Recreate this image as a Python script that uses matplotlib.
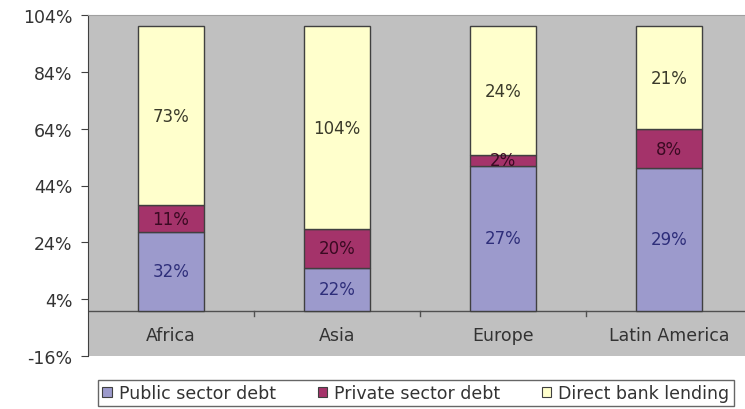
import matplotlib
matplotlib.use("Agg")
import matplotlib.pyplot as plt
import numpy as np
from matplotlib.patches import Patch

categories = ["Africa", "Asia", "Europe", "Latin America"]
public_debt = [32, 22, 27, 29]
private_debt = [11, 20, 2, 8]
direct_lending = [73, 104, 24, 21]
series_names = ["Public sector debt", "Private sector debt", "Direct bank lending"]
yticks = [-16, 4, 24, 44, 64, 84, 104]

colors = ["#9C9ACC", "#A4336A", "#FFFFCC"]
text_colors = ["#2E2E7A", "#3A0A22", "#3A3A2A"]

plt.rcParams["font.family"] = ["DejaVu Sans"]

fig = plt.figure(figsize=(7.45, 4.10), dpi=100)
ax = fig.add_axes([88/745, 1-357/410, (752-88)/745, 341/410])
ax.set_facecolor("#C0C0C0")

raw = np.array([public_debt, private_debt, direct_lending], dtype=float)
share = raw / raw.sum(axis=0) * 100
x = np.arange(len(categories))
bottom = np.zeros(len(categories))
for i in range(3):
    ax.bar(x, share[i], 0.4, bottom=bottom, color=colors[i],
           edgecolor="#404040", linewidth=1.0, zorder=3)
    for j in range(len(categories)):
        ax.text(x[j], bottom[j] + share[i][j]/2, f"{int(raw[i][j])}%",
                ha="center", va="center", fontsize=12, color=text_colors[i], zorder=4)
    bottom += share[i]

ax.set_xlim(-0.5, len(categories) - 0.5)
ax.set_ylim(-16, 104)
ax.set_yticks(yticks)
ax.set_yticklabels([f"{t}%" for t in yticks], fontsize=12.5, color="#333333")
ax.tick_params(axis="y", length=5, color="#404040", direction="out", pad=6)
ax.set_xticks([])

ax.axhline(0, color="#505050", linewidth=1.0, zorder=2)
for b in np.arange(0.5, len(categories) - 0.5, 1):
    ax.plot([b, b], [0, -1.8], color="#505050", linewidth=1.0, zorder=2, clip_on=False)
for j, c in enumerate(categories):
    ax.text(x[j], -8.5, c, ha="center", va="center", fontsize=12.5, color="#333333")

for s in ["right", "bottom"]:
    ax.spines[s].set_visible(False)
ax.spines["left"].set_color("#404040")
ax.spines["top"].set_color("#A0A0A0")

handles = [Patch(facecolor=colors[i], edgecolor="#404040", linewidth=0.8) for i in range(3)]
leg = fig.legend(handles, series_names, loc="center", bbox_to_anchor=(416/745, 1-394/410),
                 ncol=3, fontsize=12.5, frameon=True, fancybox=False, edgecolor="#404040",
                 handlelength=0.55, handleheight=0.55, handletextpad=0.4, columnspacing=2.4,
                 borderpad=0.25)
leg.get_frame().set_linewidth(1.0)
for t in leg.get_texts():
    t.set_color("#333333")

fig.savefig("out.png", dpi=100)
